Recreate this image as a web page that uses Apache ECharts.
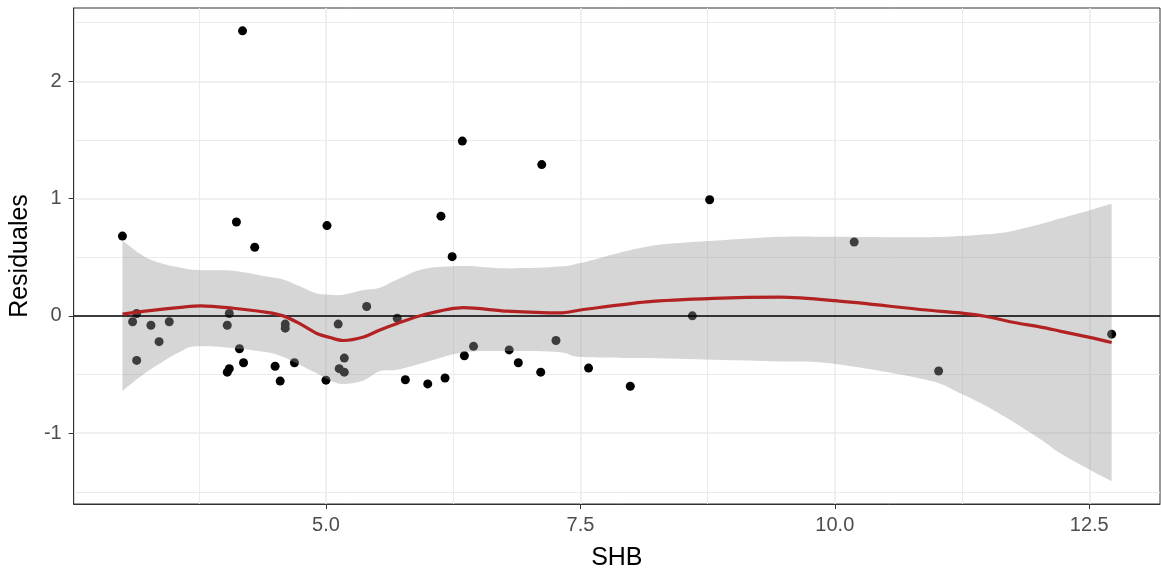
<!DOCTYPE html>
<html>
<head>
<meta charset="utf-8">
<title>Residuales vs SHB</title>
<script src="https://cdn.jsdelivr.net/npm/echarts@6/dist/echarts.min.js"></script>
<style>
    html, body { margin: 0; padding: 0; background: #fff; }
    #chart { width: 1161px; height: 582px; }
</style>
</head>
<body>
<div id="chart"></div>
<script>
// puntos (SHB, residual)
var shb = [3.00, 3.10, 3.14, 3.14, 3.28, 3.36, 3.46, 4.03, 4.05, 4.03, 4.05, 4.12, 4.15, 4.18, 4.19,
    4.30, 4.50, 4.55, 4.60, 4.60, 4.69, 5.00, 5.01, 5.12, 5.13, 5.18, 5.18, 5.40, 5.70, 5.78,
    6.00, 6.13, 6.17, 6.24, 6.34, 6.36, 6.45, 6.80, 6.89, 7.11, 7.12, 7.26, 7.58, 7.99, 8.60,
    8.77, 10.19, 11.02, 12.72];
var residuales = [0.68, -0.05, 0.02, -0.38, -0.08, -0.22, -0.05, -0.08, 0.02, -0.48, -0.45, 0.80, -0.28, 2.43, -0.40,
    0.585, -0.43, -0.556, -0.07, -0.105, -0.40, -0.548, 0.77, -0.07, -0.45, -0.36, -0.48, 0.08, -0.02, -0.545,
    -0.58, 0.85, -0.53, 0.505, 1.49, -0.34, -0.26, -0.29, -0.40, -0.48, 1.29, -0.21, -0.445, -0.60, 0.00,
    0.99, 0.63, -0.47, -0.156];

// curva loess y banda de confianza
var suaveX = [3.00, 3.27, 3.60, 3.77, 4.09, 4.42, 4.58, 4.75, 4.91, 5.04, 5.17, 5.37, 5.53, 5.70, 5.96, 6.35,
    6.78, 7.30, 7.50, 8.15, 8.81, 9.46, 10.00, 10.90, 11.23, 11.49, 11.72, 12.05, 12.21, 12.54, 12.72];
var suaveY = [0.015, 0.045, 0.075, 0.085, 0.065, 0.03, 0.0, -0.07, -0.15, -0.185, -0.21, -0.18, -0.12, -0.065, 0.01, 0.07,
    0.04, 0.025, 0.05, 0.12, 0.15, 0.16, 0.13, 0.05, 0.025, -0.005, -0.05, -0.1, -0.13, -0.19, -0.227];
var bandaSup = [0.64, 0.48, 0.405, 0.39, 0.385, 0.335, 0.31, 0.25, 0.19, 0.18, 0.18, 0.22, 0.24, 0.31, 0.40, 0.425,
    0.405, 0.42, 0.45, 0.59, 0.64, 0.675, 0.675, 0.67, 0.68, 0.695, 0.72, 0.79, 0.83, 0.91, 0.955];
var bandaInf = [-0.64, -0.46, -0.29, -0.26, -0.275, -0.31, -0.35, -0.42, -0.49, -0.55, -0.58, -0.55, -0.47, -0.46, -0.40, -0.31,
    -0.30, -0.31, -0.35, -0.36, -0.375, -0.39, -0.41, -0.545, -0.66, -0.77, -0.886, -1.07, -1.17, -1.33, -1.41];

// ejes
var xMajor = [5.0, 7.5, 10.0, 12.5];
var xMinor = [3.75, 6.25, 8.75, 11.25];
var yMajor = [-1, 0, 1, 2];
var yMinor = [-1.5, -0.5, 0.5, 1.5, 2.5];

var gridColor = '#EBEBEB';
var myChart = echarts.init(document.getElementById('chart'));

var puntos = [], suave = [];
for (var i = 0; i < shb.length; i++) puntos.push([shb[i], residuales[i]]);
for (var j = 0; j < suaveX.length; j++) suave.push([suaveX[j], suaveY[j]]);

// tramo suavizado (catmull-rom -> bezier) en pixeles
function curva(p) {
    var d = '';
    for (var k = 0; k < p.length - 1; k++) {
        var p0 = p[k - 1] || p[k], p1 = p[k], p2 = p[k + 1], p3 = p[k + 2] || p[k + 1];
        var c1 = [p1[0] + (p2[0] - p0[0]) / 6, p1[1] + (p2[1] - p0[1]) / 6];
        var c2 = [p2[0] - (p3[0] - p1[0]) / 6, p2[1] - (p3[1] - p1[1]) / 6];
        d += ' C' + c1[0] + ',' + c1[1] + ' ' + c2[0] + ',' + c2[1] + ' ' + p2[0] + ',' + p2[1];
    }
    return d;
}

var option = {
    animation: false,
    grid: {
        left: 73, right: 1, top: 8, bottom: 78,
        show: true, borderColor: '#333333', borderWidth: 1, backgroundColor: '#fff'
    },
    xAxis: [
        {
            type: 'value', min: 2.521, max: 13.195,
            name: 'SHB', nameLocation: 'middle', nameGap: 42,
            nameTextStyle: { fontFamily: 'Liberation Sans', fontSize: 25, color: '#000' },
            axisLine: { show: true, onZero: false, lineStyle: { color: '#333333', width: 1 } },
            axisTick: { show: true, length: 5, customValues: xMajor, lineStyle: { color: '#333333' } },
            axisLabel: {
                customValues: xMajor, margin: 11,
                fontFamily: 'Liberation Sans', fontSize: 20, color: '#4D4D4D',
                formatter: function (v) { return v.toFixed(1); }
            },
            splitLine: { show: true, lineStyle: { color: gridColor, width: 1.5 } }
        },
        {
            type: 'value', min: 2.521, max: 13.195, position: 'bottom',
            axisLine: { show: false },
            axisTick: { show: false, customValues: xMinor },
            axisLabel: { show: false, customValues: xMinor },
            splitLine: { show: true, lineStyle: { color: gridColor, width: 1 } }
        }
    ],
    yAxis: [
        {
            type: 'value', min: -1.604, max: 2.625,
            name: 'Residuales', nameLocation: 'middle', nameGap: 38,
            nameTextStyle: { fontFamily: 'Liberation Sans', fontSize: 25, color: '#000' },
            axisLine: { show: true, onZero: false, lineStyle: { color: '#333333', width: 1 } },
            axisTick: { show: true, length: 5, customValues: yMajor, lineStyle: { color: '#333333' } },
            axisLabel: {
                customValues: yMajor, margin: 12,
                fontFamily: 'Liberation Sans', fontSize: 20, color: '#4D4D4D'
            },
            splitLine: { show: true, lineStyle: { color: gridColor, width: 1.5 } }
        },
        {
            type: 'value', min: -1.604, max: 2.625, position: 'left',
            axisLine: { show: false },
            axisTick: { show: false, customValues: yMinor },
            axisLabel: { show: false, customValues: yMinor },
            splitLine: { show: true, lineStyle: { color: gridColor, width: 1 } }
        }
    ],
    series: [
        {
            name: 'residuales', type: 'scatter', z: 2,
            symbolSize: 9, itemStyle: { color: '#000', opacity: 1 },
            data: puntos
        },
        {
            name: 'banda', type: 'custom', z: 3, silent: true,
            data: [[suaveX[0], bandaSup[0]]],
            renderItem: function (params, api) {
                var sup = [], inf = [];
                for (var k = 0; k < suaveX.length; k++) sup.push(api.coord([suaveX[k], bandaSup[k]]));
                for (var m = suaveX.length - 1; m >= 0; m--) inf.push(api.coord([suaveX[m], bandaInf[m]]));
                var d = 'M' + sup[0][0] + ',' + sup[0][1] + curva(sup) +
                    ' L' + inf[0][0] + ',' + inf[0][1] + curva(inf) + ' Z';
                return {
                    type: 'path',
                    shape: { pathData: d },
                    style: { fill: 'rgba(153,153,153,0.4)', stroke: null }
                };
            }
        },
        {
            name: 'cero', type: 'line', z: 4, data: [],
            markLine: {
                silent: true, symbol: 'none', animation: false,
                label: { show: false },
                lineStyle: { color: '#000', width: 1.6, type: 'solid' },
                data: [{ yAxis: 0 }]
            }
        },
        {
            name: 'loess', type: 'line', z: 5,
            smooth: 0.3, showSymbol: false,
            lineStyle: { color: '#B22222', width: 3.2 },
            data: suave
        }
    ]
};
myChart.setOption(option);
</script>
</body>
</html>
